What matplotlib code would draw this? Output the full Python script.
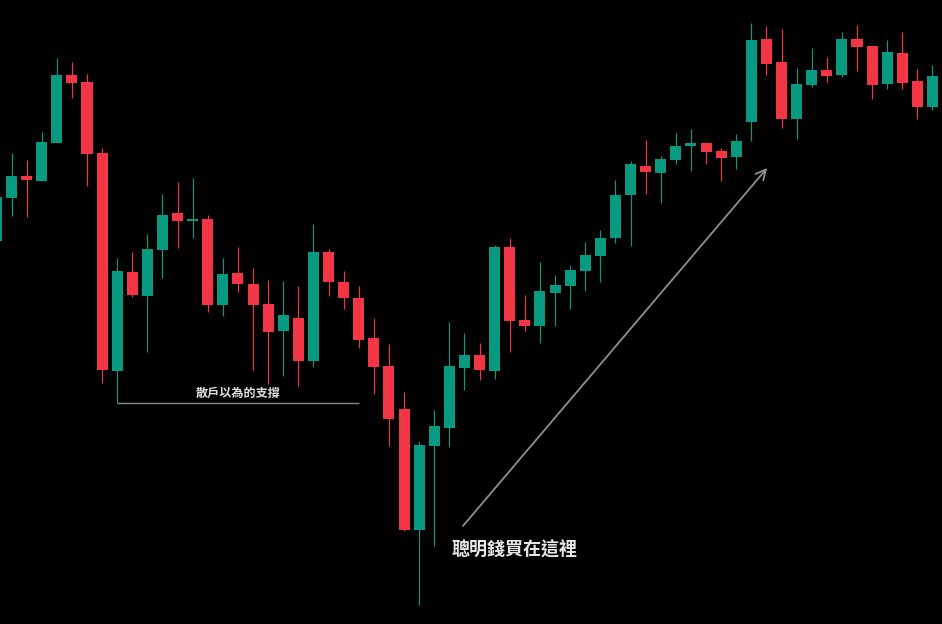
import matplotlib
matplotlib.use("Agg")
import matplotlib.pyplot as plt
import numpy as np

# OHLC values (price units)
opens = [383, 426, 448, 443, 481, 549, 542, 471, 253, 352, 328, 374, 411, 403.5, 405, 319,
         351, 340, 320, 293, 306, 263, 372, 342, 326, 286, 258, 215, 94, 178, 196, 256,
         269, 253, 377, 304, 298, 331, 338, 353, 368, 386, 429, 458, 451, 464, 478, 481,
         473, 467, 502, 585, 562, 505, 539, 554, 549, 585, 578, 540, 571, 543, 517]
highs = [432, 471, 464, 492, 566, 562, 550, 476, 366, 372, 390, 430, 442, 446, 409, 366,
         377, 356, 344, 343, 338, 400, 375, 353, 338, 306, 280, 232, 183, 214, 302, 291,
         281, 379, 386, 329, 362, 349, 359, 382, 394, 444, 463, 484, 468, 491, 495, 482,
         476, 490, 601, 598, 595, 556, 576, 567, 592, 599, 578, 584, 592, 555, 559]
lows = [379, 408, 407, 443, 481, 526, 438, 241, 221, 327, 272, 346, 376, 386, 312, 308,
        332, 254, 240, 248, 238, 257, 328, 315, 276, 230, 178, 93, 19, 78, 177, 234,
        244, 245, 272, 293, 281, 298, 315, 333, 342, 381, 378, 430, 421, 460, 453, 460,
        443, 455, 483, 549, 496, 485, 537, 542, 547, 553, 525, 535, 535, 505, 514]
closes = [427, 448, 444, 482, 549, 541, 470, 254, 353, 329, 375, 409, 403, 404, 319, 350,
          340, 319, 292, 309, 263, 372, 342, 326, 284, 257, 205, 94, 179, 198, 258, 269,
          254, 377, 303, 298, 333, 339, 354, 369, 386, 429, 460, 452, 465, 478, 481, 472,
          466, 483, 584, 560, 505, 540, 554, 548, 585, 577, 539, 572, 541, 517, 548]

# annotations
support_level = 221
support_start, support_end = 8, 24
support_label = "散戶以為的支撐"
arrow_start = (30.9, 98)
arrow_end = (51.05, 456)
smart_label = "聰明錢買在這裡"

UP = "#089981"
DOWN = "#F23645"

fig = plt.figure(figsize=(9.42, 6.24), dpi=100, facecolor="black")
ax = fig.add_axes([0, 0, 1, 1])
ax.set_facecolor("black")
ax.set_axis_off()

x = np.arange(len(opens))
o = np.array(opens, float)
h = np.array(highs, float)
l = np.array(lows, float)
c = np.array(closes, float)
colors = [UP if cc >= oo else DOWN for oo, cc in zip(o, c)]

ax.vlines(x, l, h, colors=colors, linewidth=0.85, zorder=2)
bottoms = np.minimum(o, c)
heights = np.maximum(np.abs(c - o), 1.6)
ax.bar(x, heights, bottom=bottoms, width=0.73, color=colors, linewidth=0, zorder=3)

ax.hlines(support_level, support_start, support_end, colors="#8a8a8a", linewidth=1.0, zorder=1)
ax.text((support_start + support_end) / 2, support_level + 10, support_label,
        ha="center", va="center", fontsize=8.7, fontweight="bold", color="#e0e0e0",
        family=["Noto Sans CJK TC", "DejaVu Sans"])

ax.annotate("", xy=arrow_end, xytext=arrow_start,
            arrowprops=dict(arrowstyle="->", color="#8f8f8f", lw=1.3,
                            mutation_scale=18, shrinkA=0, shrinkB=0))
ax.text(34.33, 74, smart_label, ha="center", va="center", fontsize=13.0,
        fontweight="bold", color="#e8e8e8",
        family=["Noto Sans CJK TC", "DejaVu Sans"])

ax.set_xlim(0.238, 62.63)
ax.set_ylim(0, 624)

fig.savefig("out.png", dpi=100, facecolor="black")
